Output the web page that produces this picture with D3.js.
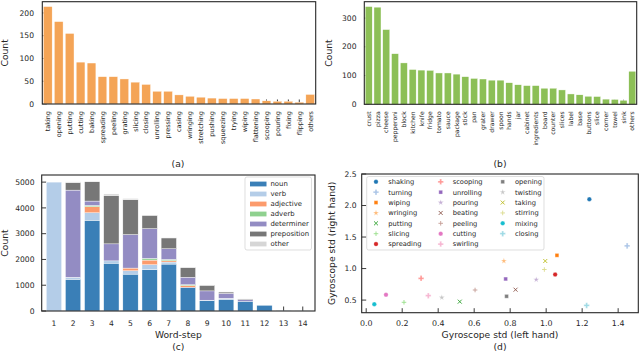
<!DOCTYPE html>
<html><head><meta charset="utf-8">
<script src="https://cdn.jsdelivr.net/npm/d3@7"></script>
<style>body{margin:0;background:#fff}svg{display:block}text{font-family:"DejaVu Sans",sans-serif;fill:#262626}</style>
</head><body><svg id="c" width="640" height="353"></svg>
<script>
// ---- data ----
const verbLabels = ["taking","opening","putting","cutting","baking","spreading","peeling","grating","slicing","closing","unrolling","pressing","casing","wringing","stretching","pushing","squeezing","trying","wiping","flattening","scooping","pouring","fixing","flipping","others"];
const verbCounts = [214,181,155,92,90,60,60,55,48,43,28,28,20,17,15,13,12,12,12,11,7,6,6,4,21];
const nounLabels = ["crust","pizza","cheese","pepperoni","block","kitchen","knife","fridge","tomato","sauce","package","stick","pan","grater","drawer","spoon","hands","jar","cabinet","ingredients","board","counter","slices","label","base","buttons","slice","corner","towel","sink","others"];
const nounCounts = [340,338,260,176,144,121,119,118,109,109,105,96,90,88,84,84,75,68,65,65,56,56,50,36,33,28,27,18,17,14,115];
const aTicks = [0,50,100,150,200];
const bTicks = [0,100,200,300];

const wordSteps = [1,2,3,4,5,6,7,8,9,10,11,12,13,14];
const posNames = ["noun","verb","adjective","adverb","determiner","preposition","other"];
const noun        = [0,1230,3520,1855,1430,1600,1820,920,400,455,375,220,5,2];
const verb        = [5000,80,290,90,130,195,80,0,20,40,0,0,0,0];
const adjective   = [0,0,235,0,105,180,50,65,0,0,0,0,0,0];
const adverb      = [0,0,50,0,0,65,50,35,0,0,0,0,0,0];
const determiner  = [0,3380,170,660,1300,1155,415,290,360,190,65,0,0,0];
const preposition = [0,290,750,1880,1350,520,420,375,220,52,25,0,0,0];
const other       = [0,30,10,55,50,10,10,10,10,8,5,0,0,0];
const cTicks = [0,1000,2000,3000,4000,5000];

const actions  = ["shaking","turning","wiping","wringing","putting","slicing","spreading","scooping","unrolling","pouring","beating","peeling","cutting","swirling","opening","twisting","taking","stirring","mixing","closing"];
const leftStd  = [1.24,1.45,1.06,0.765,0.52,0.21,1.05,0.305,0.775,0.945,0.83,0.605,0.11,0.345,0.78,0.42,0.995,0.99,0.045,1.225];
const rightStd = [2.10,1.36,1.21,1.12,0.475,0.465,0.905,0.845,0.835,0.825,0.665,0.66,0.585,0.57,0.56,0.54,1.12,0.985,0.435,0.415];
const dxTicks = [0,0.2,0.4,0.6,0.8,1.0,1.2,1.4];
const dyTicks = [0.5,1.0,1.5,2.0,2.5];

// ---- styles ----
const tab20 = ["#1f77b4","#aec7e8","#ff7f0e","#ffbb78","#2ca02c","#98df8a","#d62728","#ff9896","#9467bd","#c5b0d5","#8c564b","#c49c94","#e377c2","#f7b6d2","#7f7f7f","#c7c7c7","#bcbd22","#dbdb8d","#17becf","#9edae5"];
const posColors = ["#3a7fb7","#b4cde8","#fc9b6c","#8fd18f","#938cc3","#777777","#d6d6d6"];
const svg = d3.select("#c");
const TL = 4.5;

function frame(g, L, R, T, B){
  g.append("rect").attr("x",L).attr("y",T).attr("width",R-L).attr("height",B-T)
   .attr("fill","none").attr("stroke","#262626").attr("stroke-width",1.1);
}
function yAxis(g, y, ticks, L, labelRight, fmt){
  ticks.forEach(t=>{
    g.append("line").attr("x1",L).attr("x2",L+TL).attr("y1",y(t)).attr("y2",y(t)).attr("stroke","#262626").attr("stroke-width",0.9);
    g.append("text").attr("x",labelRight).attr("y",y(t)).attr("dy","0.35em").attr("text-anchor","end")
     .attr("font-size",7.6).text(fmt?fmt(t):t);
  });
}
function ylabel(g, txt, x, yc){
  g.append("text").attr("transform",`translate(${x},${yc}) rotate(-90)`).attr("dy","0.75em")
   .attr("text-anchor","middle").attr("font-size",9.2).text(txt);
}

// ---- panels (a), (b) ----
function barPanel(labels, counts, ticks, color, L, R, T, B, ylabX, tickLabelRight, fs, cap, capX){
  const g = svg.append("g");
  const x = d3.scaleBand().domain(labels).range([L,R]).paddingInner(0.2).paddingOuter(0.1);
  const y = d3.scaleLinear().domain([0, d3.max(counts)*1.05]).range([B,T]);
  labels.forEach(l=>{
    const cx = x(l)+x.bandwidth()/2;
    g.append("line").attr("x1",cx).attr("x2",cx).attr("y1",B).attr("y2",B-TL).attr("stroke","#262626").attr("stroke-width",0.9);
    g.append("text").attr("transform",`translate(${cx},${B+7}) rotate(-90)`).attr("dy","0.35em")
     .attr("text-anchor","end").attr("font-size",fs).text(l);
  });
  yAxis(g, y, ticks, L, tickLabelRight);
  g.selectAll("rect.bar").data(counts).join("rect").attr("class","bar")
   .attr("x",(d,i)=>x(labels[i])).attr("width",x.bandwidth())
   .attr("y",d=>y(d)).attr("height",d=>B-y(d)).attr("fill",color)
   .attr("stroke","#fff").attr("stroke-width",0.4);
  frame(g,L,R,T,B);
  ylabel(g,"Count",ylabX,(T+B)/2);
  g.append("text").attr("x",capX).attr("y",166.5).attr("text-anchor","middle").attr("font-size",9.2).text(cap);
}
barPanel(verbLabels, verbCounts, aTicks, "#f4a456", 42.3, 315.7, 1.7, 104, 1, 34, 6.5, "(a)", 178);
barPanel(nounLabels, nounCounts, bTicks, "#8cbf56", 364.3, 636.7, 1.7, 104.3, 325, 356.5, 6.1, "(b)", 500);

// ---- panel (c) ----
(function(){
  const L=41.7,R=315,T=175,B=311;
  const g = svg.append("g");
  const rows = wordSteps.map((s,i)=>({step:s, noun:noun[i], verb:verb[i], adjective:adjective[i], adverb:adverb[i], determiner:determiner[i], preposition:preposition[i], other:other[i]}));
  const stack = d3.stack().keys(posNames)(rows);
  const totalMax = d3.max(rows, r=>posNames.reduce((a,k)=>a+r[k],0));
  const x = d3.scaleLinear().domain([0.36,14.64]).range([L,R]);
  const y = d3.scaleLinear().domain([0,totalMax*1.05]).range([B,T]);
  wordSteps.forEach(s=>{
    g.append("line").attr("x1",x(s)).attr("x2",x(s)).attr("y1",B).attr("y2",B-TL).attr("stroke","#262626").attr("stroke-width",0.9);
    g.append("text").attr("x",x(s)).attr("y",326).attr("text-anchor","middle").attr("font-size",7.6).text(s);
  });
  yAxis(g, y, cTicks, L, 34.5);
  stack.forEach((layer,k)=>{
    g.selectAll(null).data(layer).join("rect")
     .attr("x",d=>x(d.data.step-0.4)).attr("width",d=>x(0.8)-x(0))
     .attr("y",d=>y(d[1])).attr("height",d=>Math.max(0,y(d[0])-y(d[1])))
     .attr("fill",posColors[k]).attr("stroke","#fff").attr("stroke-width",d=>(d[1]-d[0])>0?0.4:0);
  });
  frame(g,L,R,T,B);
  ylabel(g,"Count",1,(T+B)/2);
  g.append("text").attr("x",(L+R)/2).attr("y",337.5).attr("text-anchor","middle").attr("font-size",9.2).text("Word-step");
  g.append("text").attr("x",(L+R)/2).attr("y",349.5).attr("text-anchor","middle").attr("font-size",9.2).text("(c)");
  const lg = g.append("g");
  lg.append("rect").attr("x",245).attr("y",177).attr("width",66.5).attr("height",73).attr("rx",2)
    .attr("fill","#fff").attr("fill-opacity",0.85).attr("stroke","#d0d0d0").attr("stroke-width",0.7);
  posNames.forEach((n,i)=>{
    const yy = 184+i*10;
    lg.append("rect").attr("x",250).attr("y",yy-2.4).attr("width",16.5).attr("height",4.8).attr("fill",posColors[i]);
    lg.append("text").attr("x",270.5).attr("y",yy).attr("dy","0.35em").attr("font-size",6.9).text(n);
  });
})();

// ---- panel (d) ----
(function(){
  const L=361.7,R=638.3,T=174,B=312.7;
  const g = svg.append("g");
  const x = d3.scaleLinear().domain([-0.025,1.512]).range([L,R]);
  const y = d3.scaleLinear().domain([0.3,2.5]).range([B,T]);
  dxTicks.forEach(t=>{
    g.append("line").attr("x1",x(t)).attr("x2",x(t)).attr("y1",B).attr("y2",B-TL).attr("stroke","#262626").attr("stroke-width",0.9);
    g.append("text").attr("x",x(t)).attr("y",326).attr("text-anchor","middle").attr("font-size",7.9).text(d3.format(".1f")(t));
  });
  yAxis(g, y, dyTicks, L, 356.5, d3.format(".1f"));
  frame(g,L,R,T,B);
  const shapes = ["circle","cross","square","star","times","plus"];
  function marker(sel, i, cx, cy){
    const s = shapes[i%6], c = tab20[i];
    let sym, size, filled = true;
    if(s==="circle"){sym=d3.symbolCircle;size=16;}
    else if(s==="cross"){sym=d3.symbolCross;size=17;}
    else if(s==="square"){sym=d3.symbolSquare;size=14;}
    else if(s==="star"){sym=d3.symbolStar;size=11;}
    else if(s==="times"){sym=d3.symbolTimes;size=12;filled=false;}
    else {sym=d3.symbolPlus;size=8;filled=false;}
    const p = sel.append("path").attr("d",d3.symbol(sym,size)()).attr("transform",`translate(${cx},${cy})`);
    if(filled) p.attr("fill",c).attr("stroke","#fff").attr("stroke-width",0.3);
    else p.attr("fill","none").attr("stroke",c).attr("stroke-width",0.9);
  }
  g.append("rect").attr("x",366.7).attr("y",176.5).attr("width",177.3).attr("height",73.5).attr("rx",2)
   .attr("fill","#fff").attr("fill-opacity",0.85).attr("stroke","#d0d0d0").attr("stroke-width",0.7);
  const colMX=[376,440.7,502.7], colTX=[388.3,452.7,515];
  actions.forEach((a,i)=>{
    const c=Math.floor(i/7), r=i%7, yy=181.8+r*10.38;
    marker(g,i,colMX[c],yy);
    g.append("text").attr("x",colTX[c]).attr("y",yy).attr("dy","0.35em").attr("font-size",6.7).text(a);
  });
  actions.forEach((a,i)=>marker(g,i,x(leftStd[i]),y(rightStd[i])));
  ylabel(g,"Gyroscope std (right hand)",328,(T+B)/2);
  g.append("text").attr("x",(L+R)/2).attr("y",337.5).attr("text-anchor","middle").attr("font-size",9.2).text("Gyroscope std (left hand)");
  g.append("text").attr("x",(L+R)/2).attr("y",349.5).attr("text-anchor","middle").attr("font-size",9.2).text("(d)");
})();
</script></body></html>
